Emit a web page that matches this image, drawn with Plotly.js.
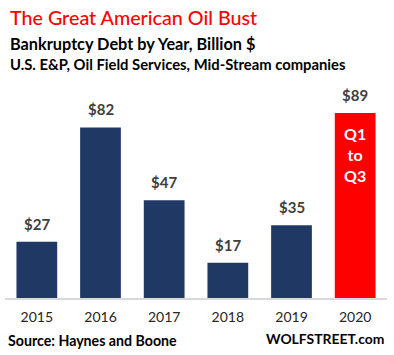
<!DOCTYPE html>
<html>
<head>
<meta charset="utf-8">
<script src="https://cdn.plot.ly/plotly-3.0.1.min.js"></script>
<style>html,body{margin:0;padding:0;background:#fff;}#chart{width:394px;height:355px;}</style>
</head>
<body>
<div id="chart"></div>
<script>
const years = ['2015', '2016', '2017', '2018', '2019', '2020'];
const debt = [27, 82, 47, 17, 35, 89];
const barColors = ['#1F3864', '#1F3864', '#1F3864', '#1F3864', '#1F3864', '#FF0000'];
const valueLabels = ['$27', '$82', '$47', '$17', '$35', '$89'];
const noteYear = '2020';
const noteText = 'Q1<br>to<br>Q3';

const FONT = 'Lato, "Open Sans", sans-serif';

const annotations = years.map((y, i) => ({
  x: i, y: debt[i], xref: 'x', yref: 'y',
  text: valueLabels[i], showarrow: false,
  yanchor: 'bottom', yshift: 7,
  font: {family: FONT, size: 15, color: '#404040', weight: 'bold'}
}));
const ni = years.indexOf(noteYear);
annotations.push({
  x: ni, y: debt[ni], xref: 'x', yref: 'y',
  text: noteText, showarrow: false, yanchor: 'top', yshift: -9,
  font: {family: FONT, size: 16, color: '#FFFFFF', weight: 'bold'}
});
const pTop = 90, pBot = 298, pH = pBot - pTop, pL = 4.5, pW = 383;
const py = v => (pBot - v) / pH;
const px = v => (v - pL) / pW;
annotations.push(
  {xref:'paper', yref:'paper', x: px(8), y: py(18), xanchor:'left', yanchor:'middle', showarrow:false,
   text:'The Great American Oil Bust', font:{family: FONT, size: 19.7, color:'#FF0000', weight: 500}},
  {xref:'paper', yref:'paper', x: px(8), y: py(44), xanchor:'left', yanchor:'middle', showarrow:false,
   text:'Bankruptcy Debt by Year, Billion $', font:{family: FONT, size: 16.3, color:'#000000', weight:'bold'}},
  {xref:'paper', yref:'paper', x: px(8), y: py(64), xanchor:'left', yanchor:'middle', showarrow:false,
   text:'U.S. E&amp;P, Oil Field Services, Mid-Stream companies', font:{family: FONT, size: 14.8, color:'#000000', weight:'bold'}},
  {xref:'paper', yref:'paper', x: px(6), y: py(340), xanchor:'left', yanchor:'middle', showarrow:false,
   text:'Source: Haynes and Boone', font:{family: FONT, size: 14.2, color:'#000000', weight:'bold'}},
  {xref:'paper', yref:'paper', x: px(386), y: py(338), xanchor:'right', yanchor:'middle', showarrow:false,
   text:'WOLFSTREET.com', font:{family: FONT, size: 13.9, color:'#000000', weight:'bold'}}
);

Plotly.newPlot('chart', [{
  type: 'bar', x: years, y: debt,
  marker: {color: barColors},
  hoverinfo: 'none'
}], {
  width: 394, height: 355,
  margin: {l: pL, r: 394 - pL - pW, t: pTop, b: 355 - pBot, pad: 0},
  paper_bgcolor: '#FFFFFF', plot_bgcolor: '#FFFFFF',
  bargap: 0.36,
  showlegend: false,
  xaxis: {type: 'category', range: [-0.5, years.length - 0.5], autorange: false,
    showline: true, linecolor: '#D9D9D9', linewidth: 1.5,
    ticks: '', showgrid: false, zeroline: false, ticklabelstandoff: 6,
    tickfont: {family: FONT, size: 14, color: '#262626'}},
  yaxis: {range: [0, 100], autorange: false, visible: false, showgrid: false, zeroline: false, fixedrange: true},
  annotations: annotations
}, {displayModeBar: false, staticPlot: true});
</script>
</body>
</html>
